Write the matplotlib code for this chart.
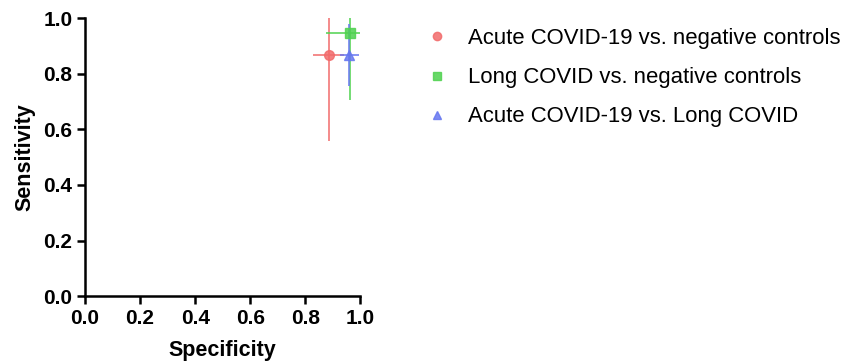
import matplotlib
matplotlib.use("Agg")
import matplotlib.pyplot as plt
from matplotlib.lines import Line2D

plt.rcParams['font.family'] = ['Liberation Sans', 'DejaVu Sans']

labels = ["Acute COVID-19 vs. negative controls",
          "Long COVID vs. negative controls",
          "Acute COVID-19 vs. Long COVID"]
specificity = [0.885, 0.964, 0.960]
spec_low = [0.828, 0.876, 0.927]
spec_high = [0.940, 1.000, 0.996]
sensitivity = [0.867, 0.945, 0.867]
sens_low = [0.557, 0.705, 0.756]
sens_high = [1.000, 1.000, 0.980]
colors = ["#f26b6b", "#4fd24f", "#6677f0"]
markers = ["o", "s", "^"]
ticks = [0.0, 0.2, 0.4, 0.6, 0.8, 1.0]

fig = plt.figure(figsize=(8.42, 3.62), dpi=100)
ax = fig.add_axes([0.101, 0.182, 0.327, 0.768])

handles = []
for i in range(3):
    xerr = [[specificity[i] - spec_low[i]], [spec_high[i] - specificity[i]]]
    yerr = [[sensitivity[i] - sens_low[i]], [sens_high[i] - sensitivity[i]]]
    ax.errorbar([specificity[i]], [sensitivity[i]], xerr=xerr, yerr=yerr,
                fmt=markers[i], color=colors[i], ms=7, elinewidth=1.3,
                capsize=0, alpha=0.85, clip_on=False)
    handles.append(Line2D([], [], marker=markers[i], color=colors[i], ls='none',
                          ms=6, alpha=0.85))

ax.set_xlim(0, 1)
ax.set_ylim(0, 1)
ax.set_xticks(ticks)
ax.set_yticks(ticks)
ax.set_xticklabels([f"{t:.1f}" for t in ticks], fontweight='bold', fontsize=15)
ax.set_yticklabels([f"{t:.1f}" for t in ticks], fontweight='bold', fontsize=15)
ax.set_xlabel("Specificity", fontweight='bold', fontsize=15.5, labelpad=9)
ax.set_ylabel("Sensitivity", fontweight='bold', fontsize=15.5, labelpad=6)
for s in ['top', 'right']:
    ax.spines[s].set_visible(False)
for s in ['left', 'bottom']:
    ax.spines[s].set_linewidth(1.8)
ax.tick_params(width=1.8, length=6, pad=3)

fig.legend(handles, labels, loc='upper left', bbox_to_anchor=(0.482, 0.977),
           frameon=False, fontsize=15.9, handletextpad=0.9, labelspacing=0.82,
           handlelength=1.0)

fig.savefig("out.png", dpi=100)
